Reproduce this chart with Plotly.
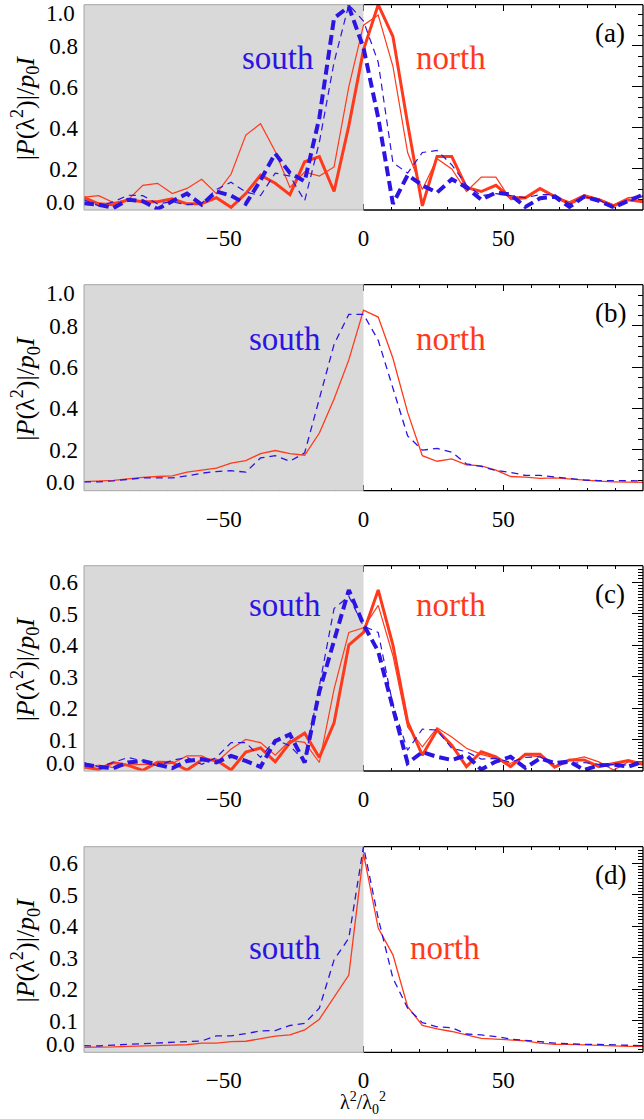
import plotly.graph_objects as go

W, H = 644, 1119

# ---------------- data ----------------
LAMBDA2 = [-100.0, -94.74, -89.47, -84.21, -78.95, -73.68, -68.42, -63.16, -57.89, -52.63,
           -47.37, -42.11, -36.84, -31.58, -26.32, -21.05, -15.79, -10.53, -5.26, 0.0,
           5.26, 10.53, 15.79, 21.05, 26.32, 31.58, 36.84, 42.11, 47.37, 52.63,
           57.89, 63.16, 68.42, 73.68, 78.95, 84.21, 89.47, 94.74, 100.0]

# panel (a)
A_NORTH_THICK = [0.06, 0.03, 0.026, 0.05, 0.04, 0.04, 0.055, 0.03, 0.03, 0.06,
                 0.013, 0.08, 0.17, 0.13, 0.075, 0.235, 0.26, 0.09, 0.41, 0.78,
                 1.0, 0.845, 0.42, 0.02, 0.26, 0.26, 0.11, 0.09, 0.12, 0.06,
                 0.06, 0.105, 0.065, 0.03, 0.065, 0.05, 0.02, 0.05, 0.04]
A_NORTH_THIN = [0.063, 0.07, 0.036, 0.05, 0.12, 0.13, 0.08, 0.105, 0.15, 0.08,
                0.175, 0.365, 0.42, 0.285, 0.11, 0.185, 0.165, 0.21, 0.6, 0.9,
                0.95, 0.7, 0.28, 0.1, 0.25, 0.2, 0.09, 0.16, 0.16, 0.05,
                0.055, 0.1, 0.065, 0.04, 0.075, 0.055, 0.025, 0.06, 0.065]
A_SOUTH_THICK = [0.033, 0.026, 0.01, 0.05, 0.043, 0.005, 0.043, 0.08, 0.026, 0.09,
                 0.07, 0.03, 0.145, 0.275, 0.18, 0.14, 0.45, 0.935, 0.99, 0.79,
                 0.45, 0.03, 0.17, 0.12, 0.085, 0.15, 0.11, 0.05, 0.085, 0.075,
                 0.015, 0.057, 0.065, 0.015, 0.065, 0.045, 0.013, 0.046, 0.075]
A_SOUTH_THIN = [0.05, 0.02, 0.04, 0.072, 0.07, 0.03, 0.04, 0.026, 0.033, 0.1,
                0.135, 0.087, 0.07, 0.18, 0.165, 0.045, 0.33, 0.72, 1.0, 0.92,
                0.72, 0.23, 0.18, 0.28, 0.29, 0.22, 0.12, 0.07, 0.08, 0.07,
                0.06, 0.075, 0.075, 0.03, 0.065, 0.05, 0.01, 0.04, 0.07]

# panel (b)
B_NORTH = [0.044, 0.046, 0.05, 0.057, 0.065, 0.069, 0.072, 0.09, 0.1, 0.11,
           0.134, 0.146, 0.18, 0.195, 0.18, 0.172, 0.28, 0.445, 0.635, 0.877,
           0.843, 0.643, 0.38, 0.17, 0.143, 0.154, 0.126, 0.121, 0.1, 0.069,
           0.066, 0.06, 0.062, 0.056, 0.05, 0.046, 0.043, 0.043, 0.04]
B_SOUTH = [0.043, 0.043, 0.048, 0.056, 0.062, 0.062, 0.062, 0.072, 0.085, 0.093,
           0.097, 0.09, 0.159, 0.17, 0.143, 0.184, 0.445, 0.71, 0.856, 0.856,
           0.73, 0.495, 0.266, 0.197, 0.205, 0.187, 0.13, 0.118, 0.098, 0.089,
           0.074, 0.074, 0.066, 0.057, 0.052, 0.049, 0.049, 0.048, 0.048]

# panel (c)
C_NORTH_THICK = [0.013, 0.005, 0.027, 0.018, 0.002, 0.028, 0.027, 0.003, 0.035, 0.035,
                 0.003, 0.06, 0.073, 0.029, 0.09, 0.12, 0.043, 0.153, 0.4, 0.44,
                 0.575, 0.4, 0.156, 0.05, 0.13, 0.082, 0.014, 0.061, 0.045, 0.014,
                 0.053, 0.053, 0.012, 0.035, 0.035, 0.014, 0.024, 0.033, 0.021]
C_NORTH_THIN = [0.009, 0.019, 0.011, 0.019, 0.021, 0.021, 0.024, 0.048, 0.048, 0.027,
                0.07, 0.1, 0.09, 0.05, 0.097, 0.091, 0.027, 0.26, 0.44, 0.455,
                0.526, 0.366, 0.14, 0.077, 0.137, 0.108, 0.072, 0.053, 0.04, 0.024,
                0.05, 0.045, 0.016, 0.035, 0.045, 0.029, 0.003, 0.029, 0.029]
C_SOUTH_THICK = [0.021, 0.013, 0.009, 0.027, 0.032, 0.021, 0.009, 0.032, 0.038, 0.027,
                 0.048, 0.032, 0.013, 0.095, 0.116, 0.027, 0.253, 0.414, 0.575, 0.465,
                 0.38, 0.2, 0.025, 0.06, 0.045, 0.035, 0.05, 0.005, 0.03, 0.045,
                 0.01, 0.04, 0.025, 0.03, 0.003, 0.018, 0.02, 0.014, 0.03]
C_SOUTH_THIN = [0.027, 0.013, 0.027, 0.043, 0.032, 0.016, 0.034, 0.043, 0.021, 0.043,
                0.09, 0.09, 0.043, 0.1, 0.08, 0.03, 0.27, 0.516, 0.555, 0.46,
                0.44, 0.21, 0.066, 0.133, 0.13, 0.072, 0.061, 0.038, 0.04, 0.028,
                0.043, 0.045, 0.021, 0.024, 0.027, 0.021, 0.019, 0.019, 0.027]

# panel (d)
D_NORTH = [0.016, 0.016, 0.017, 0.019, 0.021, 0.023, 0.023, 0.024, 0.029, 0.029,
           0.034, 0.035, 0.044, 0.051, 0.055, 0.071, 0.105, 0.175, 0.245, 0.63,
           0.394, 0.309, 0.145, 0.085, 0.074, 0.066, 0.055, 0.044, 0.042, 0.039,
           0.036, 0.029, 0.025, 0.025, 0.023, 0.023, 0.021, 0.019, 0.019]
D_SOUTH = [0.021, 0.02, 0.023, 0.025, 0.028, 0.029, 0.032, 0.034, 0.036, 0.052,
           0.052, 0.059, 0.068, 0.069, 0.085, 0.092, 0.14, 0.293, 0.362, 0.653,
           0.425, 0.235, 0.14, 0.094, 0.081, 0.078, 0.058, 0.055, 0.05, 0.042,
           0.039, 0.034, 0.029, 0.026, 0.025, 0.025, 0.023, 0.021, 0.021]

PANEL_LABELS = ["(a)", "(b)", "(c)", "(d)"]
X_TICKS = [-50, 0, 50]
X_RANGE = [-100, 100]
SHADE_X = [-100, 0]          # "south" half of the axis, shaded grey
Y_RANGES = [[0, 1.0], [0, 1.0], [0, 0.652], [0, 0.652]]
Y_TICKS = [[0.2, 0.4, 0.6, 0.8], [0.2, 0.4, 0.6, 0.8],
           [0.1, 0.2, 0.3, 0.4, 0.5, 0.6], [0.1, 0.2, 0.3, 0.4, 0.5, 0.6]]
Y_EDGE_LABELS = [["0.0", "1.0"], ["0.0", "1.0"], ["0.0", None], ["0.0", None]]
Y_MINOR = [0.05, 0.05, 0.01, 0.01]

# ---------------- style ----------------
RED = "#ff3a1c"
BLUE = "#2c14e2"
GREY = "#d9d9d9"
FONT = "'Liberation Serif', 'DejaVu Serif', 'Times New Roman', serif"
TICK_SIZE = 23

# panel placement in pixels (top, bottom)
PANEL_PX = [(4.7, 210.0), (284.7, 490.7), (565.7, 771.0), (846.7, 1052.3)]
XL_PX, XR_PX = 84.0, 643.0
SOUTH_POS = [(278, 53), (285, 54), (285, 39), (285, 101)]
NORTH_POS = [(451, 53), (451, 54), (451, 39), (445, 101)]


def px(x):
    return x / W


def py(y):
    return 1 - y / H


series = [
    [(A_NORTH_THIN, RED, 1.2, "solid"), (A_NORTH_THICK, RED, 3, "solid"),
     (A_SOUTH_THIN, BLUE, 1.2, "7px,5px"), (A_SOUTH_THICK, BLUE, 4, "10px,5px")],
    [(B_NORTH, RED, 1.3, "solid"), (B_SOUTH, BLUE, 1.3, "7px,5px")],
    [(C_NORTH_THIN, RED, 1.2, "solid"), (C_NORTH_THICK, RED, 3, "solid"),
     (C_SOUTH_THIN, BLUE, 1.2, "7px,5px"), (C_SOUTH_THICK, BLUE, 4, "10px,5px")],
    [(D_NORTH, RED, 1.3, "solid"), (D_SOUTH, BLUE, 1.3, "7px,5px")],
]

fig = go.Figure()
layout = dict(width=W, height=H, margin=dict(l=0, r=0, t=0, b=0),
              paper_bgcolor="white", plot_bgcolor="white", showlegend=False,
              font=dict(family=FONT))
shapes = []
annotations = []

for i in range(4):
    n = i + 1
    xa = "x" if n == 1 else f"x{n}"
    ya = "y" if n == 1 else f"y{n}"
    top, bot = PANEL_PX[i]
    ylo, yhi = Y_RANGES[i]

    # grey shading of the south half (drawn as a trace so it hides the ticks)
    fig.add_trace(go.Scatter(
        x=[SHADE_X[0], SHADE_X[1], SHADE_X[1], SHADE_X[0], SHADE_X[0]],
        y=[ylo - 1, ylo - 1, yhi + 1, yhi + 1, ylo - 1],
        fill="toself", fillcolor=GREY, mode="lines",
        line=dict(width=0, color="rgba(0,0,0,0)"),
        hoverinfo="skip", xaxis=xa, yaxis=ya))

    for vals, col, lw, dash in series[i]:
        fig.add_trace(go.Scatter(
            x=LAMBDA2, y=vals, mode="lines",
            line=dict(color=col, width=lw, dash=dash),
            xaxis=xa, yaxis=ya, hoverinfo="skip"))

    layout["xaxis" if n == 1 else f"xaxis{n}"] = dict(
        domain=[px(XL_PX), px(XR_PX)], anchor=ya, range=X_RANGE,
        tickmode="array", tickvals=X_TICKS, ticks="inside", ticklen=6,
        tickcolor="black", tickwidth=1, mirror="allticks", showline=False,
        showgrid=False, zeroline=False, layer="below traces",
        tickfont=dict(family=FONT, size=TICK_SIZE, color="black"),
        ticklabelstandoff=12,
        minor=dict(tickmode="linear", tick0=0, dtick=10, ticks="inside",
                   ticklen=3, tickcolor="black", tickwidth=1, showgrid=False))
    layout["yaxis" if n == 1 else f"yaxis{n}"] = dict(
        domain=[py(bot), py(top)], anchor=xa, range=Y_RANGES[i],
        tickmode="array", tickvals=Y_TICKS[i],
        ticktext=[f"{v:.1f}" for v in Y_TICKS[i]],
        ticks="inside", ticklen=11, tickcolor="black", tickwidth=1,
        mirror="allticks", showline=False, showgrid=False, zeroline=False,
        layer="below traces",
        tickfont=dict(family=FONT, size=TICK_SIZE, color="black"),
        ticklabelstandoff=5,
        minor=dict(tickmode="linear", tick0=0, dtick=Y_MINOR[i], ticks="inside",
                   ticklen=5, tickcolor="black", tickwidth=1, showgrid=False))

    # frame: black on the white half, grey on the shaded half
    xd, yd = f"{xa} domain", f"{ya} domain"
    for (x0, y0, x1, y1) in [(0.5, 1, 1, 1), (0.5, 0, 1, 0), (1, 0, 1, 1)]:
        shapes.append(dict(type="line", xref=xd, yref=yd, x0=x0, y0=y0, x1=x1, y1=y1,
                           line=dict(color="black", width=1.3), layer="above"))
    for (x0, y0, x1, y1) in [(0, 0, 0, 1), (0, 1, 0.5, 1), (0, 0, 0.5, 0)]:
        shapes.append(dict(type="line", xref=xd, yref=yd, x0=x0, y0=y0, x1=x1, y1=y1,
                           line=dict(color="#a6a6a6", width=1), layer="above"))

    # edge tick labels, nudged inward like the original
    lo_lab, hi_lab = Y_EDGE_LABELS[i]
    if lo_lab:
        annotations.append(dict(text=lo_lab, xref="paper", yref="paper",
                                x=px(77), y=py(bot - 8), xanchor="right", yanchor="middle",
                                showarrow=False,
                                font=dict(family=FONT, size=TICK_SIZE, color="black")))
    if hi_lab:
        annotations.append(dict(text=hi_lab, xref="paper", yref="paper",
                                x=px(77), y=py(top + 9), xanchor="right", yanchor="middle",
                                showarrow=False,
                                font=dict(family=FONT, size=TICK_SIZE, color="black")))

    # y-axis title
    annotations.append(dict(
        text="|<i>P</i>(λ<sup>2</sup>)|/<i>p</i><sub>0</sub><i>I</i>",
        xref="paper", yref="paper", x=px(25), y=py((top + bot) / 2),
        textangle=-90, showarrow=False, xanchor="center", yanchor="middle",
        font=dict(family=FONT, size=26, color="black")))

    # panel label
    annotations.append(dict(text=PANEL_LABELS[i], xref="paper", yref="paper",
                            x=px(610), y=py(top + 28), showarrow=False,
                            xanchor="center", yanchor="middle",
                            font=dict(family=FONT, size=27, color="black")))

    # south / north labels
    sx, sy = SOUTH_POS[i]
    nx, ny = NORTH_POS[i]
    annotations.append(dict(text="south", xref="paper", yref="paper",
                            x=px(sx), y=py(top + sy), showarrow=False,
                            xanchor="center", yanchor="middle",
                            font=dict(family=FONT, size=33, color=BLUE)))
    annotations.append(dict(text="north", xref="paper", yref="paper",
                            x=px(nx), y=py(top + ny), showarrow=False,
                            xanchor="center", yanchor="middle",
                            font=dict(family=FONT, size=33, color=RED)))

# x-axis title
annotations.append(dict(text="λ<sup>2</sup>/λ<sub>0</sub><sup>2</sup>",
                        xref="paper", yref="paper", x=px(363), y=py(1118),
                        showarrow=False, xanchor="center", yanchor="bottom",
                        borderpad=0,
                        font=dict(family=FONT, size=20, color="black")))

layout["shapes"] = shapes
layout["annotations"] = annotations
fig.update_layout(**layout)
fig.write_html(
    "out.html",
    config={"displayModeBar": False},
    post_script="document.body.style.margin='0';document.body.style.padding='0';"
                "document.documentElement.style.margin='0';",
)
